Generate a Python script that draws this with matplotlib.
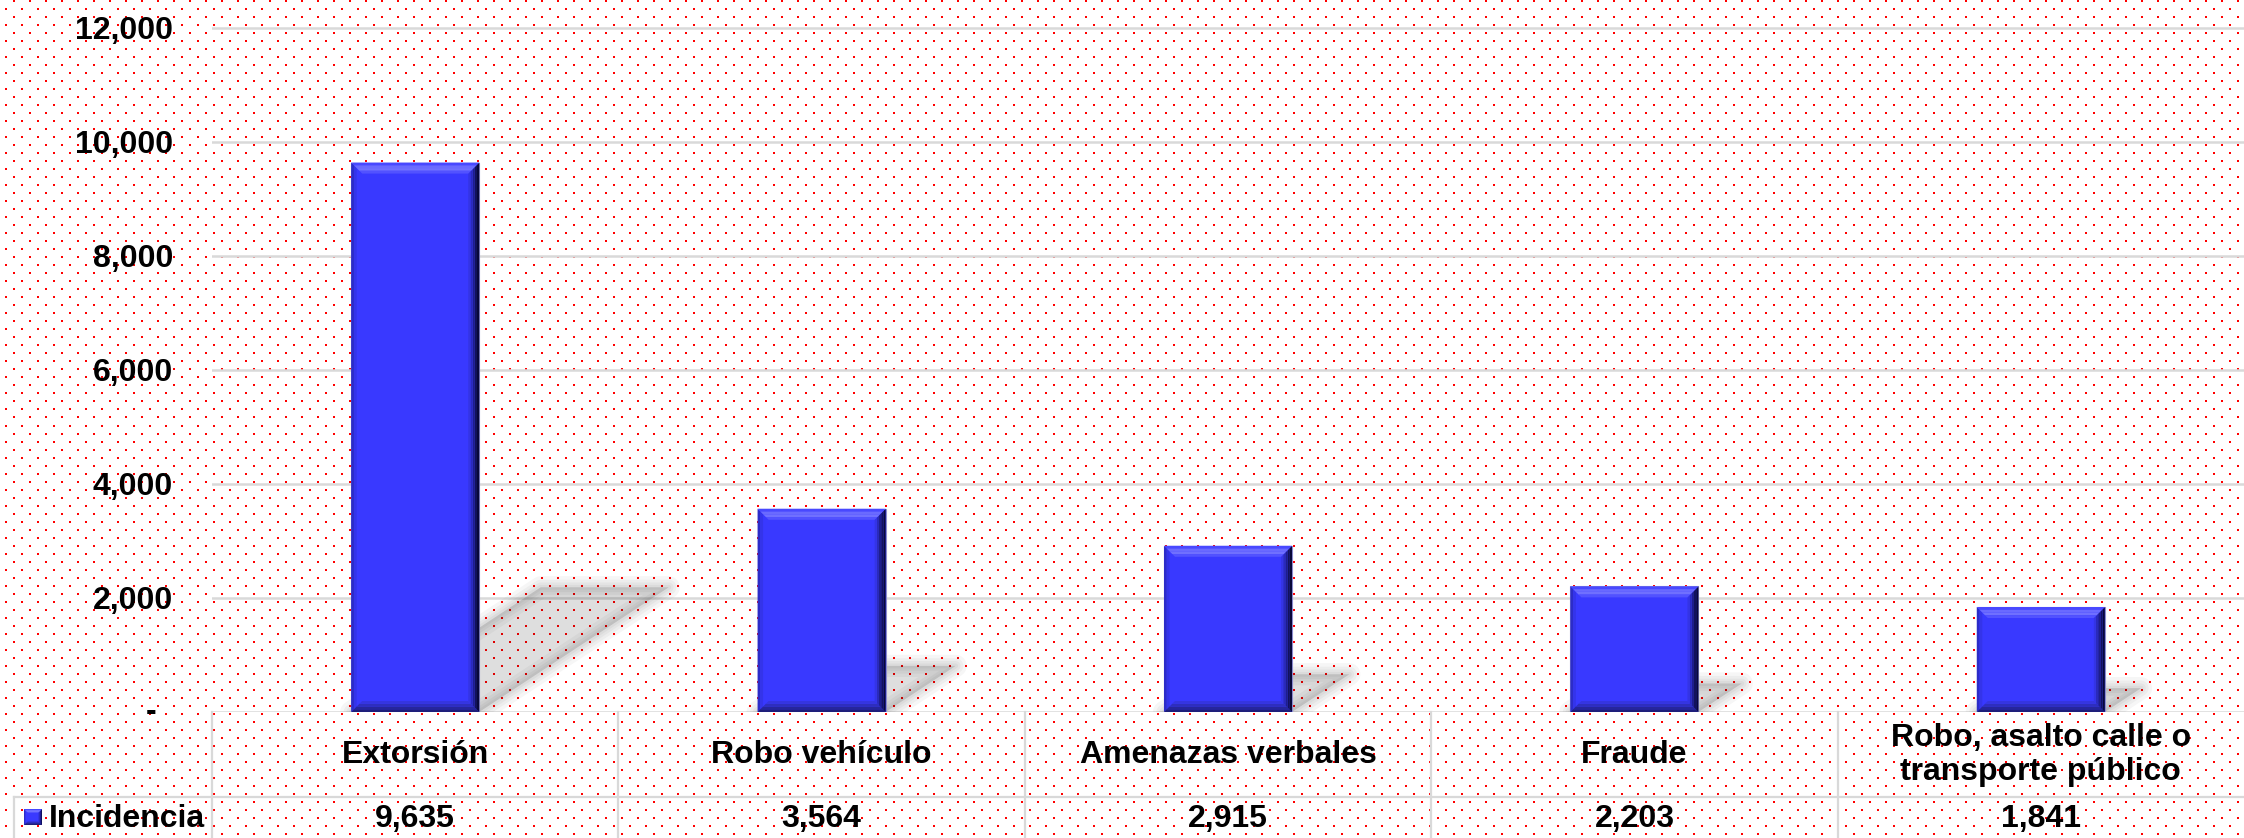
import numpy as np
import matplotlib
matplotlib.use('Agg')
import matplotlib.pyplot as plt
from matplotlib.patches import Polygon

# chart data
categories = ['Extorsión', 'Robo vehículo', 'Amenazas verbales', 'Fraude',
              'Robo, asalto calle o\ntransporte público']
incidencia = [9635, 3564, 2915, 2203, 1841]
series_name = 'Incidencia'
y_ticks = [0, 2000, 4000, 6000, 8000, 10000, 12000]

W, H = 2244, 838
BLUE = '#3939ff'
GRID = '#d9d9d9'

plt.rcParams['font.family'] = ['Liberation Sans', 'DejaVu Sans']
plt.rcParams['font.weight'] = 'bold'
plt.rcParams['font.size'] = 23

fig = plt.figure(figsize=(W / 100, H / 100), dpi=100)
fig.patch.set_facecolor('white')

# red dotted background pattern
pattern = np.ones((H, W, 3))
for j, y0 in enumerate(range(1, H, 8)):
    off = 13 if j % 2 == 0 else 5
    for x0 in range(off, W, 16):
        pattern[y0:y0 + 2, x0:x0 + 2] = (1, 0, 0)
bg = fig.add_axes([0, 0, 1, 1], zorder=-5)
bg.imshow(pattern, extent=(0, W, H, 0), aspect='auto', interpolation='nearest')
bg.axis('off')

# main plot area (pixel layout of the reference)
ax_left, ax_bot, ax_w, ax_h = 212, 126, 2032, 712
ax = fig.add_axes([ax_left / W, ax_bot / H, ax_w / W, ax_h / H])
ax.set_facecolor('none')
ymax = ax_h / 684.3 * 12000
ax.set_xlim(-0.5, len(categories) - 0.5)
ax.set_ylim(0, ymax)
sx = ax_w / len(categories)      # px per x unit
sy = ax_h / ymax                 # px per y unit

for s in ax.spines.values():
    s.set_visible(False)
ax.set_xticks([])
ax.set_yticks(y_ticks)
ax.set_yticklabels([f'{v:,}' if v else '' for v in y_ticks])
ax.tick_params(axis='y', length=0, pad=28, labelsize=23)
ax.yaxis.grid(True, color=GRID, lw=1.8, zorder=0)
ax.set_axisbelow(True)
ax.text(-(39 + 17) / ax_w, 0, '-', transform=ax.get_yaxis_transform(),
        ha='right', va='center')

x = np.arange(len(categories))
bw = 0.315


def side_poly(side, x0, x1, y0, y1, bx, by, d0, d1):
    if side == 'top':
        return [(x0 + d0 * bx, y1 - d0 * by), (x1 - d0 * bx, y1 - d0 * by),
                (x1 - d1 * bx, y1 - d1 * by), (x0 + d1 * bx, y1 - d1 * by)]
    if side == 'bottom':
        return [(x0 + d0 * bx, y0 + d0 * by), (x1 - d0 * bx, y0 + d0 * by),
                (x1 - d1 * bx, y0 + d1 * by), (x0 + d1 * bx, y0 + d1 * by)]
    if side == 'right':
        return [(x1 - d0 * bx, y0 + d0 * by), (x1 - d0 * bx, y1 - d0 * by),
                (x1 - d1 * bx, y1 - d1 * by), (x1 - d1 * bx, y0 + d1 * by)]
    return [(x0 + d0 * bx, y0 + d0 * by), (x0 + d0 * bx, y1 - d0 * by),
            (x0 + d1 * bx, y1 - d1 * by), (x0 + d1 * bx, y0 + d1 * by)]


bevel_colors = {
    'left': ['#2c2cc8', '#3434ea'],
    'bottom': ['#1e1e7a', '#26269c', '#2e2ebe', '#3535e0'],
    'right': ['#08083a', '#12125c', '#1e1e8c', '#2a2abc', '#3434e6'],
    'top': ['#4848ff', '#6a6aff', '#7070ff', '#5252ff'],
}


def bevel(container, x0, x1, y0, y1, bx, by, tr, z):
    for side in ['left', 'bottom', 'right', 'top']:
        cols = bevel_colors[side]
        n = len(cols)
        scale = 0.5 if side == 'left' else 1.0
        for k, c in enumerate(cols):
            pts = side_poly(side, x0, x1, y0, y1, bx * scale, by * scale,
                            k / n, (k + 1) / n)
            p = Polygon(pts, closed=True, fc=c, ec='none', transform=tr, zorder=z)
            p.set_clip_on(False)
            container.add_artist(p)


# soft shadows falling to the upper right
for xi, h in zip(x, incidencia):
    x0, x1 = xi - bw / 2, xi + bw / 2
    dy = 0.227 * h
    dx = 0.345 * h * sy / sx
    pts = [(x0, 0), (x1, 0), (x1 + dx, dy), (x0 + dx, dy)]
    ax.add_patch(Polygon(pts, closed=True, fc=(0, 0, 0, 0.13), ec='none', zorder=1.5))
    for lw in [16, 11, 7, 3.5]:
        ax.add_patch(Polygon(pts, closed=True, fc='none', ec=(0, 0, 0, 0.035),
                             lw=lw, joinstyle='round', zorder=1.6))

bars = ax.bar(x, incidencia, width=bw, color=BLUE, edgecolor='#8c8cd0',
              linewidth=0.8, zorder=3)
for xi, h in zip(x, incidencia):
    bevel(ax, xi - bw / 2, xi + bw / 2, 0, h, 11 / sx, 11 / sy, ax.transData, 4)

# data table under the plot
tr = ax.get_xaxis_transform()
row_sep = -(797 - 712) / ax_h
row_bot = -(838 - 712) / ax_h
leg_left = -0.5 - (ax_left - 14) / sx
ax.plot([leg_left, len(categories) - 0.5], [row_sep, row_sep], color=GRID,
        lw=1.6, transform=tr, clip_on=False, zorder=2)
for b in np.arange(-0.5, len(categories) - 0.5, 1.0):
    ax.plot([b, b], [0, row_bot], color=GRID, lw=1.6, transform=tr,
            clip_on=False, zorder=2)
ax.plot([leg_left, leg_left], [row_sep, row_bot], color=GRID, lw=1.6,
        transform=tr, clip_on=False, zorder=2)

head_y = -(755 - 712) / ax_h
val_y = -(827 - 712) / ax_h
for xi, cat, v in zip(x, categories, incidencia):
    ax.text(xi, head_y, cat, transform=tr, ha='center', va='center',
            multialignment='center', linespacing=1.15)
    ax.text(xi, val_y, f'{v:,}', transform=tr, ha='center', va='baseline')

# legend key + series name
ax.text(leg_left + (49 - 14) / sx, val_y, series_name, transform=tr,
        ha='left', va='baseline')
kx0 = leg_left + (24 - 14) / sx
kx1 = leg_left + (42 - 14) / sx
ky0 = -(825 - 712) / ax_h
ky1 = -(809 - 712) / ax_h
key = Polygon([(kx0, ky0), (kx1, ky0), (kx1, ky1), (kx0, ky1)], closed=True,
              fc=BLUE, ec='none', transform=tr, clip_on=False, zorder=3)
ax.add_artist(key)
bevel(ax, kx0, kx1, ky0, ky1, 4 / sx, 4 / ax_h, tr, 4)

fig.savefig('out.png', dpi=100)
